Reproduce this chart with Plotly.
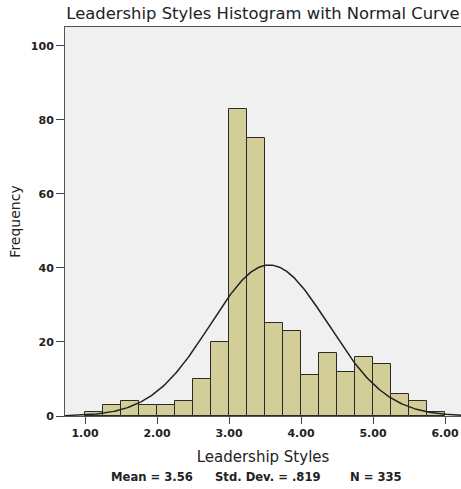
import numpy as np
import plotly.graph_objects as go

# Data
bin_starts = [1.00, 1.25, 1.50, 1.75, 2.00, 2.25, 2.50, 2.75, 3.00, 3.25,
              3.50, 3.75, 4.00, 4.25, 4.50, 4.75, 5.00, 5.25, 5.50, 5.75]
counts = [1, 3, 4, 3, 3, 4, 10, 20, 83, 75,
          25, 23, 11, 17, 12, 16, 14, 6, 4, 1]
bin_width = 0.25
mean_val = 3.56
sd_val = 0.819
n_val = 335
x_ticks = [1.0, 2.0, 3.0, 4.0, 5.0, 6.0]
y_ticks = [0, 20, 40, 60, 80, 100]
title_text = "Leadership Styles Histogram with Normal Curve"
x_title = "Leadership Styles"
y_title = "Frequency"
stats = ["Mean = 3.56", "Std. Dev. = .819", "N = 335"]

W, H = 461, 489
ML, MR, MT, MB = 65, 0, 27, 73
x_range = [0.722, 6.222]
y_range = [0, 105.1]

centers = [s + bin_width / 2 for s in bin_starts]

xs = np.linspace(x_range[0], x_range[1], 400)
ys = n_val * bin_width / (sd_val * np.sqrt(2 * np.pi)) * np.exp(-0.5 * ((xs - mean_val) / sd_val) ** 2)

fig = go.Figure()
fig.add_trace(go.Bar(
    x=centers, y=counts, width=bin_width,
    marker=dict(color="#D3CE97", line=dict(color="#2a2a2a", width=1)),
    hoverinfo="x+y",
))
fig.add_trace(go.Scatter(
    x=xs, y=ys, mode="lines",
    line=dict(color="#222222", width=1.5),
))

font_main = "DejaVu Sans, Verdana, sans-serif"

fig.update_layout(
    width=W, height=H,
    margin=dict(l=ML, r=MR, t=MT, b=MB),
    paper_bgcolor="white",
    plot_bgcolor="#F0F0F0",
    showlegend=False,
    bargap=0,
    font=dict(family=font_main, color="#222222"),
    xaxis=dict(
        range=x_range, tickvals=x_ticks, tickformat=".2f",
        ticks="outside", ticklen=7, tickwidth=1, tickcolor="#444444",
        showline=True, linecolor="#555555", linewidth=1, mirror=True,
        showgrid=False, zeroline=False,
        tickfont=dict(family="DejaVu Sans, sans-serif", size=11, color="#222222", weight="bold"),
        title=dict(text=x_title, font=dict(size=15, color="#222222"), standoff=12),
    ),
    yaxis=dict(
        range=y_range, tickvals=y_ticks,
        ticks="outside", ticklen=8, tickwidth=1, tickcolor="#444444",
        showline=True, linecolor="#555555", linewidth=1,
        showgrid=False, zeroline=False,
        tickfont=dict(family="DejaVu Sans, sans-serif", size=11, color="#222222", weight="bold"),
        title=dict(text=y_title, font=dict(size=14, color="#222222"), standoff=6),
    ),
    title=dict(text=title_text, x=(ML + (W - ML) / 2) / W, xanchor="center",
               y=1 - 13 / H, yanchor="middle",
               font=dict(size=16.4, color="#222222")),
)

plot_w = W - ML - MR
plot_h = H - MT - MB
stat_px = [152, 268, 376]
for txt, px in zip(stats, stat_px):
    fig.add_annotation(
        text=txt, xref="paper", yref="paper",
        x=(px - ML) / plot_w, y=-(477 - (H - MB)) / plot_h,
        xanchor="center", yanchor="middle", showarrow=False,
        font=dict(family="DejaVu Sans, sans-serif", size=11.6, color="#222222", weight="bold"),
    )

fig.write_html("out.html")
